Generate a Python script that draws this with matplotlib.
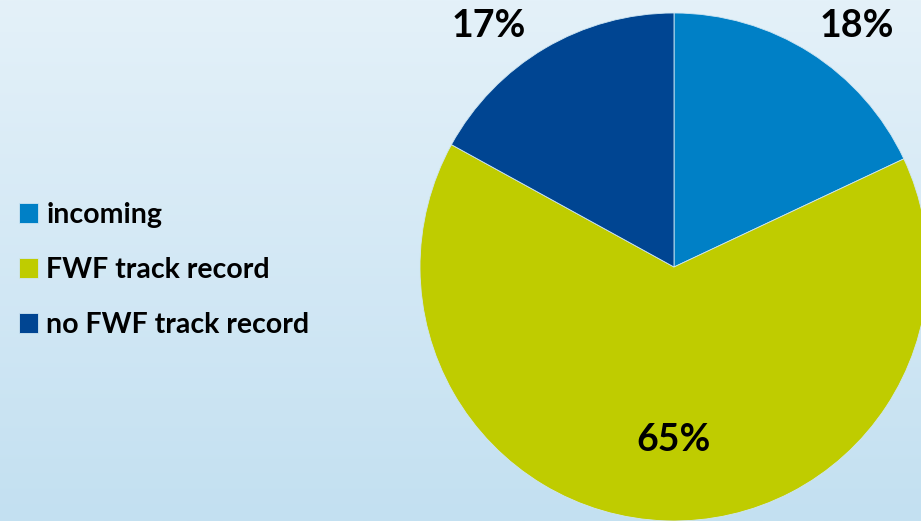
import matplotlib

matplotlib.use("Agg")
import matplotlib.pyplot as plt
import numpy as np

# data
categories = ["incoming", "FWF track record", "no FWF track record"]
shares = [18, 65, 17]
colors = ["#0080c6", "#bfcc00", "#004592"]

BG_TOP = np.array([0xe4, 0xf1, 0xf9]) / 255
BG_BOTTOM = np.array([0xc3, 0xe0, 0xf1]) / 255

plt.rcParams["font.family"] = ["Lato", "DejaVu Sans"]

W, H = 921, 521
fig = plt.figure(figsize=(W / 100, H / 100), dpi=100)

# background gradient
bg = fig.add_axes([0, 0, 1, 1])
t = np.linspace(0, 1, 256)[:, None, None]
grad = BG_TOP * (1 - t) + BG_BOTTOM * t
bg.imshow(grad, aspect="auto", extent=[0, 1, 0, 1], origin="upper")
bg.set_axis_off()

# pie placed in pixel terms: centre (674, 267), radius 254
cx, cy, r = 674, 267, 254
ax = fig.add_axes([(cx - r) / W, (H - cy - r) / H, 2 * r / W, 2 * r / H])
ax.set_axis_off()
wedges, _, autotexts = ax.pie(
    shares,
    colors=colors,
    startangle=90,
    counterclock=False,
    autopct="%d%%",
    pctdistance=0.67,
    wedgeprops={"edgecolor": "#cfe6f3", "linewidth": 0.6},
    textprops={"fontsize": 27, "fontweight": "bold", "color": "#000000"},
)
ax.set_xlim(-1, 1)
ax.set_ylim(-1, 1)

# outside labels for the two small slices
autotexts[0].set_position((0.72, 0.95))
autotexts[2].set_position((-0.73, 0.95))
autotexts[1].set_position((0.0, -0.68))
for txt in autotexts:
    txt.set_clip_on(False)

fig.legend(
    wedges,
    categories,
    loc="center left",
    bbox_to_anchor=(0.0, (H - 270) / H),
    frameon=False,
    prop={"weight": "bold", "size": 20.5},
    handlelength=0.66,
    handleheight=0.66,
    handletextpad=0.28,
    labelspacing=1.02,
    borderaxespad=0.28,
)

fig.savefig("out.png", dpi=100)
